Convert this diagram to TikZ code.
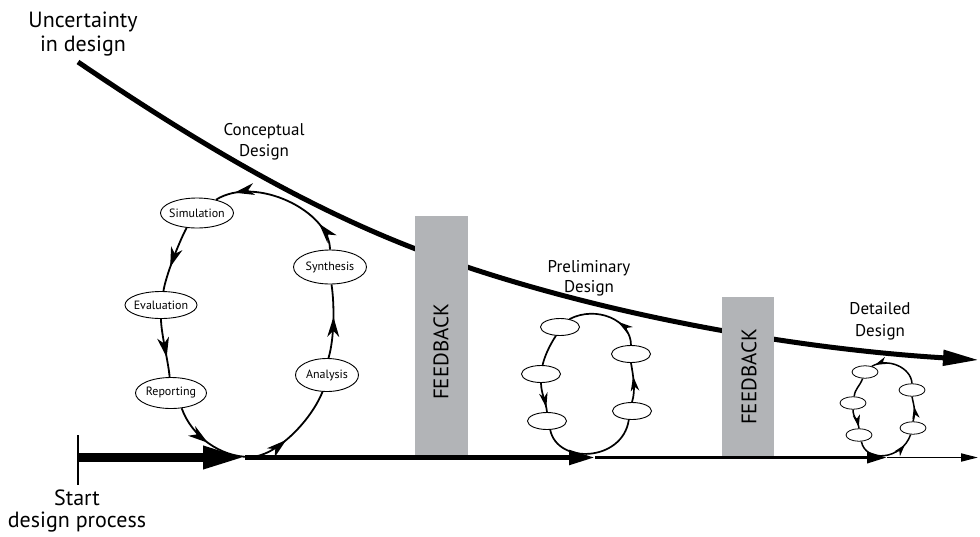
\documentclass[tikz,border=0pt]{standalone}
\usepackage{fontspec}
\setmainfont{PT Sans}
\usetikzlibrary{shapes.geometric,arrows.meta,decorations.markings}
\definecolor{fbgray}{RGB}{178,180,183}
\tikzset{
  bubble/.style={draw,ellipse,line width=0.9pt,fill=white,inner sep=0pt,font=\fontsize{12}{12}\selectfont},
  pbub/.style={draw,ellipse,line width=0.9pt,fill=white,inner sep=0pt,minimum width=39pt,minimum height=17pt},
  dbub/.style={draw,ellipse,line width=0.8pt,fill=white,inner sep=0pt,minimum width=26pt,minimum height=12.5pt},
  loopc/.style={line width=1.8pt},
  loopp/.style={line width=1.7pt},
  loopd/.style={line width=1.5pt},
  arrA/.style={postaction={decorate,decoration={markings,mark=at position #1 with {\fill (0pt,0pt) -- (-20pt,6pt) -- (-14pt,0pt) -- (-20pt,-6pt) -- cycle;}}}},
  arrB/.style={postaction={decorate,decoration={markings,mark=at position #1 with {\fill (0pt,0pt) -- (-15pt,4.3pt) -- (-10.5pt,0pt) -- (-15pt,-4.3pt) -- cycle;}}}},
  arrC/.style={postaction={decorate,decoration={markings,mark=at position #1 with {\fill (0pt,0pt) -- (-12pt,3.7pt) -- (-8.5pt,0pt) -- (-12pt,-3.7pt) -- cycle;}}}},
  fbbox/.style={fill=fbgray,draw=none,inner sep=0pt},
  fbtext/.style={rotate=90,inner sep=0pt,font=\fontsize{21}{21}\selectfont},
  lab/.style={align=center,inner sep=0pt},
}
\begin{document}
\begin{tikzpicture}[x=1pt,y=-1pt]
\useasboundingbox (0,0) rectangle (980,536);

% uncertainty curve
\coordinate (u0) at (78,62);
\coordinate (u1) at (470,268);
\coordinate (u2) at (979,360);
\draw[line width=5pt,-{Triangle[length=36pt,width=15pt]}]
  (u0) .. controls (228,164) and (350,230) .. (u1)
       .. controls (620,317.5) and (799,349) .. (u2);

% feedback boxes
\node[fbbox,minimum width=53pt,minimum height=240pt] (fb1) at (441.5,336) {};
\node[fbbox,minimum width=52pt,minimum height=159pt] (fb2) at (748,376.5) {};
\node[fbtext] (fbt1) at (441,352) {FEEDBACK};
\node[fbtext] (fbt2) at (749,377) {FEEDBACK};

% labels
\node[lab,font=\fontsize{22}{24}\selectfont] (unc) at (83,34) {Uncertainty\\in design};
\node[lab,font=\fontsize{22}{22}\selectfont] (start) at (77,511) {Start\\design process};
\node[lab,font=\fontsize{17}{21}\selectfont] (conc) at (264,142) {Conceptual\\Design};
\node[lab,font=\fontsize{17}{20}\selectfont] (prel) at (589,278) {Preliminary\\Design};
\node[lab,font=\fontsize{17}{22}\selectfont] (det) at (880,321) {Detailed\\Design};

% conceptual loop
\node[bubble,minimum width=73pt,minimum height=30pt] (c1) at (197,213) {\makebox[0pt]{Simulation}};
\node[bubble,minimum width=72pt,minimum height=27pt] (c2) at (161,305) {\makebox[0pt]{Evaluation}};
\node[bubble,minimum width=71pt,minimum height=31pt] (c3) at (171,393) {\makebox[0pt]{Reporting}};
\node[bubble,minimum width=63pt,minimum height=33pt] (c4) at (327,375) {\makebox[0pt]{Analysis}};
\node[bubble,minimum width=73pt,minimum height=34pt] (c5) at (330,267) {\makebox[0pt]{Synthesis}};
\coordinate (cb) at (250,457);
\draw[loopc,arrA=0.2,arrA=0.86] (c5.north) .. controls +(0,-38) and +(40,-25) .. (c1.35);
\draw[loopc,arrA=0.63] (c1.235) .. controls +(-8,15) and +(2,-14) .. (c2.80);
\draw[loopc,arrA=0.66] (c2.south) .. controls +(0,14) and +(-1,-14) .. (c3.95);
\draw[loopc,arrA=0.23,arrA=0.68] (c3.305) .. controls +(10,28) and +(-30,0) .. (cb) .. controls +(25,0) and +(-12,30) .. (c4.255);
\draw[loopc,arrA=0.56] (c4.85) .. controls +(6,-20) and +(3,20) .. (c5.275);

% preliminary loop
\node[pbub] (p1) at (560,327) {};
\node[pbub] (p2) at (541,374) {};
\node[pbub] (p3) at (547,421) {};
\node[pbub] (p4) at (631,354) {};
\node[pbub] (p5) at (632,411) {};
\draw[loopp,arrB=0.35] (p4.north) .. controls +(0,-25) and +(27,-14) .. (p1.40);
\draw[loopp] (p1.245) .. controls +(-6,9) and +(2,-9) .. (p2.80);
\draw[loopp,arrB=0.85] (p2.south) .. controls +(0,10) and +(-1,-10) .. (p3.north);
\draw[loopp] (p3.290) .. controls +(7,35) and +(-6,42) .. (p5.250);
\draw[loopp,arrB=0.66] (p5.north) .. controls +(4,-12) and +(2,12) .. (p4.south);

% detailed loop
\node[dbub] (d1) at (865,372) {};
\node[dbub] (d2) at (853,403) {};
\node[dbub] (d3) at (859,435) {};
\node[dbub] (d4) at (912,390) {};
\node[dbub] (d5) at (913,428) {};
\draw[loopd,arrC=0.93] (d4.north) .. controls +(-1,-16) and +(16,-9) .. (d1.40);
\draw[loopd] (d1.250) .. controls +(-3,8) and +(1,-8) .. (d2.80);
\draw[loopd,arrC=0.92] (d2.south) .. controls +(0,8) and +(-1,-8) .. (d3.north);
\draw[loopd,arrC=0.82] (d3.290) .. controls +(4,21) and +(-9,26) .. (d5.250);
\draw[loopd,arrC=0.6] (d5.north) .. controls +(3,-10) and +(2,10) .. (d4.south);

% baseline
\coordinate (b0) at (78,457.5);
\coordinate (b1) at (245,457.5);
\coordinate (b2) at (595,457.5);
\coordinate (b3) at (887,457.5);
\coordinate (b4) at (978,457.5);
\coordinate (t1) at (78,435);
\coordinate (t2) at (78,485);
\draw[line width=9pt,-{Triangle[length=42pt,width=21pt]}] (b0) -- (b1);
\draw[line width=5pt,-{Triangle[length=26pt,width=14pt]}] (b1) -- (b2);
\draw[line width=3.5pt,-{Triangle[length=20pt,width=11pt]}] (b2) -- (b3);
\draw[line width=1.8pt,-{Triangle[length=17pt,width=8pt]}] (b3) -- (b4);
\draw[line width=1.5pt] (t1) -- (t2);
\end{tikzpicture}
\end{document}
